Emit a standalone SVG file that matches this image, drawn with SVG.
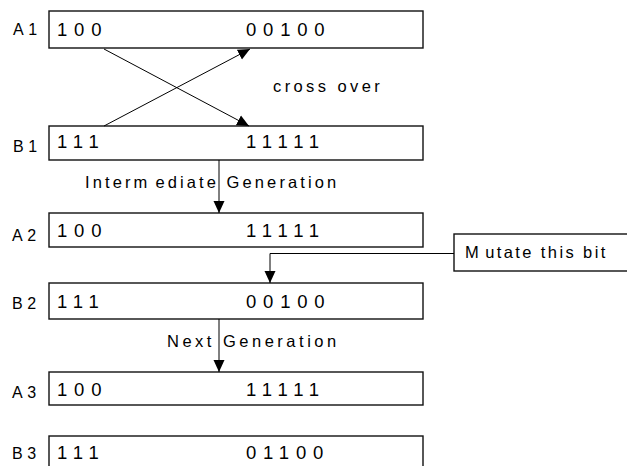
<svg xmlns="http://www.w3.org/2000/svg" width="627" height="466" viewBox="0 0 627 466">
<defs>
<marker id="ah" markerUnits="userSpaceOnUse" markerWidth="12" markerHeight="12" viewBox="0 0 12 12" refX="12" refY="6" orient="auto">
<path d="M0,0.5 L12,6 L0,11.5 z" fill="#000"/>
</marker>
<style>
.box{fill:#fff;stroke:#111;stroke-width:1.4}
.bits{font-family:"Liberation Sans",Arial,sans-serif;font-size:18.5px;letter-spacing:6.8px;fill:#000}
.lbl{font-family:"Liberation Sans",Arial,sans-serif;font-size:16px;letter-spacing:4.5px;fill:#000}
.note{font-family:"Liberation Sans",Arial,sans-serif;font-size:16.5px;fill:#000}
.ln{fill:none;stroke:#000;stroke-width:1}
</style>
</defs>
<rect width="627" height="466" fill="#fff"/>
<g id="A1">
<rect class="box" x="49" y="11" width="374" height="37"/>
<text class="lbl" x="13" y="35">A1</text>
<text class="bits" x="57" y="36">100</text>
<text class="bits" x="246" y="36">00100</text>
</g>
<g id="B1">
<rect class="box" x="49" y="126" width="374" height="34"/>
<text class="lbl" x="13" y="152">B1</text>
<text class="bits" x="57" y="148">111</text>
<text class="bits" x="246" y="148">11111</text>
</g>
<g id="A2">
<rect class="box" x="49" y="213" width="374" height="34"/>
<text class="lbl" x="12" y="241">A2</text>
<text class="bits" x="57" y="237">100</text>
<text class="bits" x="246" y="237">11111</text>
</g>
<g id="B2">
<rect class="box" x="49" y="283" width="374" height="36"/>
<text class="lbl" x="12" y="309">B2</text>
<text class="bits" x="57" y="308">111</text>
<text class="bits" x="246" y="308">00100</text>
</g>
<g id="A3">
<rect class="box" x="49" y="372" width="374" height="33"/>
<text class="lbl" x="12" y="398">A3</text>
<text class="bits" x="57" y="396">100</text>
<text class="bits" x="246" y="396">11111</text>
</g>
<g id="B3">
<rect class="box" x="49" y="436" width="374" height="40"/>
<text class="lbl" x="12" y="459">B3</text>
<text class="bits" x="57" y="459">111</text>
<text class="bits" x="246" y="459">01100</text>
</g>
<g id="mutate">
<rect class="box" x="454" y="234" width="180" height="37"/>
<text class="note" x="465" y="258" letter-spacing="2.4">M<tspan dx="4">utate this bit</tspan></text>
</g>
<g id="connectors">
<line class="ln" x1="104" y1="49" x2="249" y2="126" marker-end="url(#ah)"/>
<line class="ln" x1="104" y1="126" x2="250" y2="49" marker-end="url(#ah)"/>
<line class="ln" x1="219" y1="160" x2="219" y2="213" marker-end="url(#ah)"/>
<line class="ln" x1="219" y1="319" x2="219" y2="372" marker-end="url(#ah)"/>
<polyline class="ln" points="454,253.5 270,253.5 270,283" marker-end="url(#ah)"/>
</g>
<g id="labels">
<text class="note" x="273" y="92" letter-spacing="3.4">cross over</text>
<text class="note" x="85" y="188" letter-spacing="3.1">Interm<tspan dx="5">ediate Generation</tspan></text>
<text class="note" x="167" y="347" letter-spacing="3.5">Next Generation</text>
</g>
</svg>
